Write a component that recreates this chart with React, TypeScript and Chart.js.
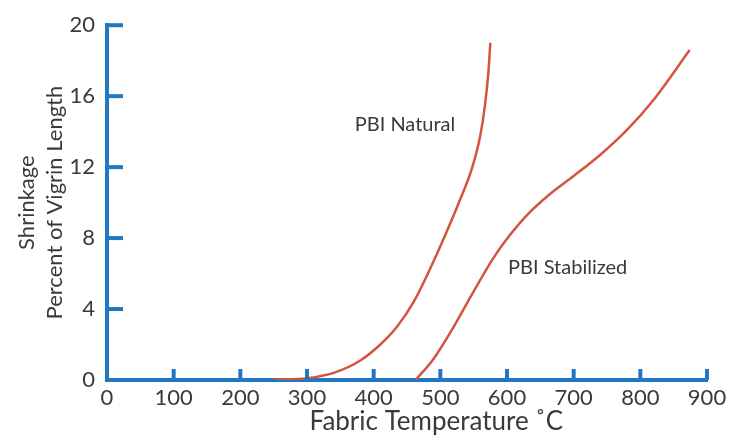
import React, { useEffect, useRef } from "react";
import { Chart, registerables } from "chart.js";

Chart.register(...registerables);

const naturalTemps = [250, 300, 340, 380, 410, 435, 460, 485, 510, 530, 548, 560, 567, 572, 575];
const naturalShrink = [0, 0.1, 0.4, 1.1, 2.0, 3.0, 4.4, 6.3, 8.4, 10.2, 12.0, 13.8, 15.5, 17.3, 19.0];
const stabilizedTemps = [463, 490, 520, 550, 580, 605, 630, 665, 700, 740, 780, 820, 874];
const stabilizedShrink = [0, 1.2, 3.0, 5.0, 6.9, 8.2, 9.3, 10.5, 11.5, 12.7, 14.1, 15.8, 18.6];
const xTicks = [0, 100, 200, 300, 400, 500, 600, 700, 800, 900];
const yTicks = [0, 4, 8, 12, 16, 20];
const xTitle = "Fabric Temperature ˚C";
const yTitle = ["Shrinkage", "Percent of Vigrin Length"];
const curveLabels = [
  { text: "PBI Natural", x: 447, y: 14.4 },
  { text: "PBI Stabilized", x: 691, y: 6.35 },
];

const AXIS = "#1f78c1";
const CURVE = "#d4553d";
const TEXT = "#3a3a3a";
const FONT = "Lato, 'Open Sans', sans-serif";

const decorPlugin = {
  id: "decor",
  afterDraw(chart: any) {
    const { ctx, scales } = chart;
    const xs = scales.x;
    const ys = scales.y;
    ctx.save();
    ctx.strokeStyle = AXIS;
    ctx.lineWidth = 4;
    ctx.lineCap = "butt";
    yTicks.forEach((v) => {
      if (v === 0) return;
      const py = ys.getPixelForValue(v);
      ctx.beginPath();
      ctx.moveTo(xs.left, py);
      ctx.lineTo(xs.left + 16, py);
      ctx.stroke();
    });
    xTicks.forEach((v) => {
      if (v === 0) return;
      const px = xs.getPixelForValue(v);
      ctx.beginPath();
      ctx.moveTo(px, ys.bottom);
      ctx.lineTo(px, ys.bottom - 11);
      ctx.stroke();
    });
    ctx.fillStyle = TEXT;
    ctx.font = "20px " + FONT;
    ctx.textAlign = "center";
    ctx.textBaseline = "middle";
    curveLabels.forEach((l) => {
      ctx.fillText(l.text, xs.getPixelForValue(l.x), ys.getPixelForValue(l.y));
    });
    // x-axis title, centred a little right of the plot centre as in the source
    ctx.font = "26px " + FONT;
    ctx.fillText(xTitle, xs.getPixelForValue(494), ys.bottom + 42);
    ctx.restore();
  },
};

export default function App() {
  const ref = useRef<HTMLCanvasElement>(null);
  useEffect(() => {
    if (!ref.current) return;
    const chart = new Chart(ref.current, {
      type: "line",
      data: {
        datasets: [
          {
            label: "PBI Natural",
            data: naturalTemps.map((x, i) => ({ x, y: naturalShrink[i] })),
            borderColor: CURVE,
            borderWidth: 2.5,
            pointRadius: 0,
            cubicInterpolationMode: "monotone",
            fill: false,
          },
          {
            label: "PBI Stabilized",
            data: stabilizedTemps.map((x, i) => ({ x, y: stabilizedShrink[i] })),
            borderColor: CURVE,
            borderWidth: 2.5,
            pointRadius: 0,
            cubicInterpolationMode: "monotone",
            fill: false,
          },
        ],
      },
      options: {
        animation: false,
        responsive: false,
        maintainAspectRatio: false,
        layout: { padding: { left: 0, right: 34, top: 17, bottom: 0 } },
        plugins: { legend: { display: false }, tooltip: { enabled: false } },
        scales: {
          x: {
            type: "linear",
            min: 0,
            max: 900,
            afterBuildTicks: (s: any) => {
              s.ticks = xTicks.map((v) => ({ value: v }));
            },
            afterFit: (s: any) => {
              s.height = 63;
            },
            grid: { display: false, drawTicks: false },
            border: { display: true, color: AXIS, width: 4 },
            ticks: { color: TEXT, font: { family: FONT, size: 22 }, padding: 5, maxRotation: 0, autoSkip: false },
            title: { display: false },
          },
          y: {
            type: "linear",
            min: 0,
            max: 20,
            afterBuildTicks: (s: any) => {
              s.ticks = yTicks.map((v) => ({ value: v }));
            },
            afterFit: (s: any) => {
              s.width = 107;
            },
            grid: { display: false, drawTicks: false },
            border: { display: true, color: AXIS, width: 4 },
            ticks: { color: TEXT, font: { family: FONT, size: 22 }, padding: 12 },
            title: {
              display: true,
              text: yTitle,
              color: TEXT,
              font: { family: FONT, size: 22, lineHeight: 1.27 },
              padding: { top: 13, bottom: 0 },
            },
          },
        },
      },
      plugins: [decorPlugin],
    });
    return () => chart.destroy();
  }, []);
  return (
    <div style={{ position: "absolute", left: 0, top: 0, width: 741, height: 443, background: "#fff" }}>
      <canvas ref={ref} width={741} height={443} style={{ display: "block" }} />
    </div>
  );
}
